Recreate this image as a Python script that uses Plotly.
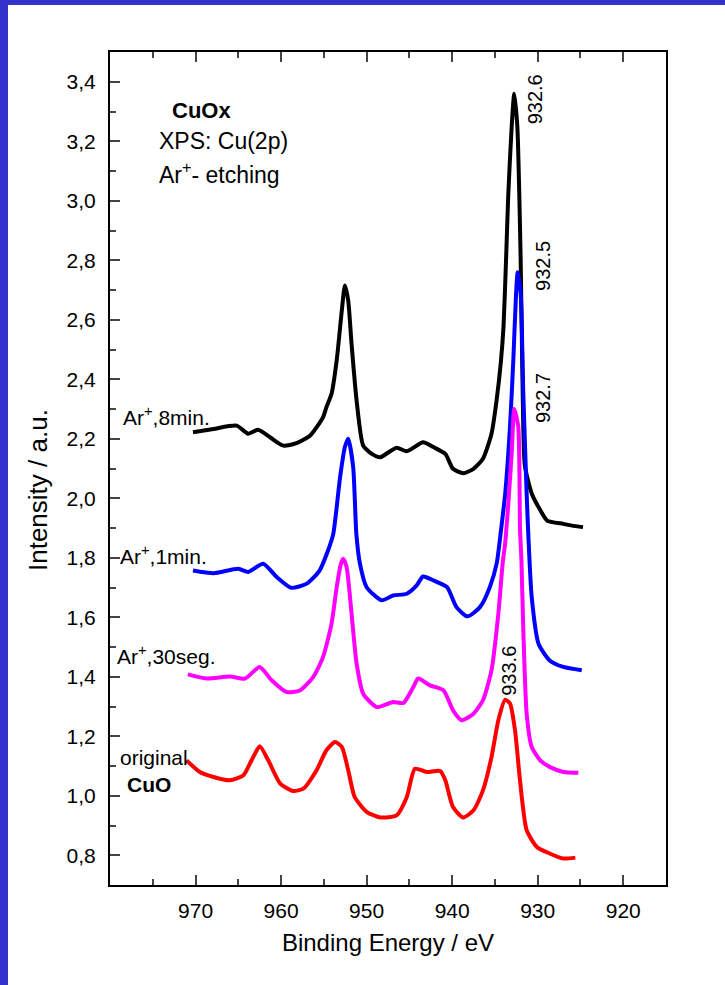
import plotly.graph_objects as go

# ---- data (binding energy in eV, intensity in a.u.) ----
be_8min = [970.3, 967.9, 965.2, 963.85, 962.7, 961.3, 959.75, 958.2, 956.6, 955.1,
           954.7, 954.1, 953.5, 952.9, 952.54, 952.15, 951.76, 951.17, 950.4, 949.4,
           948.4, 946.5, 945.3, 943.4, 942.2, 940.8, 939.9, 938.7, 937.5, 936.4,
           935.4, 934.8, 934.3, 934.0, 933.7, 933.44, 933.04, 932.74, 932.38, 932.15,
           931.99, 931.87, 931.75, 931.5, 930.7, 929.7, 928.9, 927.0, 926.0, 924.7]
int_8min = [2.222, 2.233, 2.244, 2.217, 2.230, 2.205, 2.177, 2.185, 2.211, 2.272,
            2.306, 2.351, 2.463, 2.631, 2.715, 2.664, 2.519, 2.328, 2.177, 2.149,
            2.138, 2.170, 2.158, 2.188, 2.172, 2.149, 2.099, 2.084, 2.099, 2.133,
            2.217, 2.33, 2.46, 2.575, 2.80, 3.02, 3.25, 3.36, 3.25, 3.02,
            2.80, 2.575, 2.35, 2.11, 2.016, 1.96, 1.925, 1.914, 1.908, 1.903]

be_1min = [970.3, 967.9, 965.0, 963.85, 962.1, 960.5, 958.8, 957.0, 955.5, 954.5,
           953.9, 953.1, 952.54, 952.15, 951.57, 951.2, 950.78, 950.0, 948.25, 946.9,
           945.3, 944.15, 943.4, 942.2, 940.6, 939.5, 938.2, 936.75, 935.6, 934.8,
           934.3, 933.8, 933.24, 932.85, 932.53, 932.34, 931.99, 931.68, 931.29, 931.1,
           930.7, 929.9, 928.6, 927.0, 924.85]
int_1min = [1.757, 1.748, 1.763, 1.752, 1.780, 1.735, 1.699, 1.713, 1.757, 1.825,
            1.88, 2.071, 2.172, 2.20, 2.104, 1.88, 1.78, 1.701, 1.657, 1.673,
            1.679, 1.707, 1.737, 1.724, 1.701, 1.634, 1.603, 1.634, 1.701, 1.78,
            1.89, 2.015, 2.239, 2.463, 2.687, 2.76, 2.687, 2.351, 2.015, 1.88,
            1.668, 1.511, 1.455, 1.433, 1.422]

be_30s = [970.9, 968.7, 966.0, 964.2, 962.5, 961.1, 959.4, 957.8, 956.25, 955.1,
          954.1, 953.5, 953.0, 952.74, 952.34, 951.76, 951.17, 950.4, 948.8, 946.9,
          945.7, 944.55, 943.97, 942.6, 941.0, 939.9, 938.9, 937.5, 936.4, 935.4,
          934.6, 934.1, 933.8, 933.44, 933.04, 932.74, 932.27, 932.07, 931.9, 931.68,
          931.29, 930.7, 929.7, 928.6, 927.0, 925.25]
int_30s = [1.408, 1.394, 1.401, 1.394, 1.433, 1.388, 1.349, 1.354, 1.399, 1.466,
           1.578, 1.701, 1.78, 1.797, 1.769, 1.612, 1.444, 1.343, 1.298, 1.315,
           1.312, 1.365, 1.394, 1.371, 1.354, 1.287, 1.254, 1.276, 1.321, 1.422,
           1.612, 1.78, 1.85, 1.98, 2.15, 2.30, 2.24, 1.90, 1.79, 1.556,
           1.276, 1.164, 1.119, 1.097, 1.080, 1.077]

be_orig = [971.05, 969.5, 967.9, 966.0, 964.4, 963.45, 962.5, 961.5, 960.1, 958.6,
           957.4, 955.85, 954.7, 953.7, 952.9, 952.15, 951.4, 950.0, 948.4, 946.5,
           945.3, 944.35, 943.0, 941.4, 940.8, 939.9, 938.7, 937.5, 936.4, 935.4,
           934.6, 933.8, 933.24, 932.65, 932.07, 931.29, 930.1, 928.6, 927.0, 925.6]
int_orig = [1.119, 1.08, 1.063, 1.052, 1.069, 1.119, 1.166, 1.119, 1.041, 1.016,
            1.024, 1.086, 1.153, 1.181, 1.164, 1.086, 0.996, 0.946, 0.927, 0.934,
            0.996, 1.091, 1.08, 1.083, 1.052, 0.962, 0.927, 0.951, 1.018, 1.130,
            1.254, 1.323, 1.310, 1.22, 1.052, 0.884, 0.828, 0.806, 0.789, 0.792]

x_ticks = [970, 960, 950, 940, 930, 920]
y_ticks = [0.8, 1.0, 1.2, 1.4, 1.6, 1.8, 2.0, 2.2, 2.4, 2.6, 2.8, 3.0, 3.2, 3.4]

FONT = "Liberation Sans, Arial, sans-serif"

fig = go.Figure()
for xs, ys, col in [(be_8min, int_8min, "#000000"),
                    (be_1min, int_1min, "#0000FF"),
                    (be_30s, int_30s, "#FF00FF"),
                    (be_orig, int_orig, "#FF0000")]:
    fig.add_trace(go.Scatter(x=xs, y=ys, mode="lines",
                             line=dict(color=col, width=4, shape="spline", smoothing=0.6),
                             showlegend=False, hoverinfo="skip"))

ann = []
def txt(x, y, t, size=21, bold=False, angle=0, xanchor="left"):
    if bold:
        t = "<b>" + t + "</b>"
    ann.append(dict(x=x, y=y, xref="x", yref="y", text=t, showarrow=False,
                    textangle=angle, xanchor=xanchor, yanchor="middle",
                    font=dict(family=FONT, size=size, color="black")))

txt(973.0, 3.303, "CuOx", size=22, bold=True)
txt(974.56, 3.202, "XPS: Cu(2p)", size=23)
txt(974.56, 3.094, "Ar<sup>+</sup>- etching", size=23)
txt(978.77, 2.278, "Ar<sup>+</sup>,8min.")
txt(979.05, 1.808, "Ar<sup>+</sup>,1min.")
txt(979.44, 1.472, "Ar<sup>+</sup>,30seg.")
txt(979.05, 1.129, "original")
txt(978.27, 1.039, "CuO", bold=True)
txt(930.28, 3.342, "932.6", size=20, angle=-90, xanchor="center")
txt(929.46, 2.782, "932.5", size=20, angle=-90, xanchor="center")
txt(929.46, 2.338, "932.7", size=20, angle=-90, xanchor="center")
txt(933.44, 1.421, "933.6", size=20, angle=-90, xanchor="center")

PW, PH = 556.0, 833.0
# y-axis title placed as paper annotation
ann.append(dict(x=(38 - 110) / PW, y=(885 - 490) / PH, xref="paper", yref="paper",
                text="Intensity / a.u.", showarrow=False, textangle=-90,
                xanchor="center", yanchor="middle",
                font=dict(family=FONT, size=26, color="black")))

# blue frame bands (top and left)
shapes = [
    dict(type="rect", xref="paper", yref="paper", layer="below",
         x0=-120 / PW, x1=(8 - 110) / PW, y0=-110 / PH, y1=(885 + 10) / PH,
         fillcolor="#3333CC", line=dict(width=0)),
    dict(type="rect", xref="paper", yref="paper", layer="below",
         x0=-120 / PW, x1=(725 - 110 + 10) / PW, y0=(885 - 5) / PH, y1=(885 + 10) / PH,
         fillcolor="#3333CC", line=dict(width=0)),
]

fig.update_layout(
    width=725, height=985,
    margin=dict(l=110, r=59, t=52, b=100),
    paper_bgcolor="white", plot_bgcolor="white",
    separators=",.",
    font=dict(family=FONT, size=21, color="black"),
    annotations=ann, shapes=shapes,
    xaxis=dict(range=[980, 915], tickvals=x_ticks, ticks="inside", ticklen=10, tickwidth=2,
               showline=True, linewidth=2, linecolor="black", mirror="ticks",
               showgrid=False, zeroline=False,
               minor=dict(dtick=5, ticks="inside", ticklen=6, tickwidth=2, showgrid=False),
               tickfont=dict(size=21), ticklabelstandoff=6,
               title=dict(text="Binding Energy / eV", font=dict(size=24), standoff=13)),
    yaxis=dict(range=[0.7, 3.5], tickvals=y_ticks, tickformat=".1f", ticks="inside",
               ticklen=10, tickwidth=2,
               showline=True, linewidth=2, linecolor="black", mirror=True,
               showgrid=False, zeroline=False,
               minor=dict(dtick=0.1, ticks="inside", ticklen=6, tickwidth=2, showgrid=False),
               tickfont=dict(size=21), ticklabelstandoff=8),
)

fig.write_html("out.html")
